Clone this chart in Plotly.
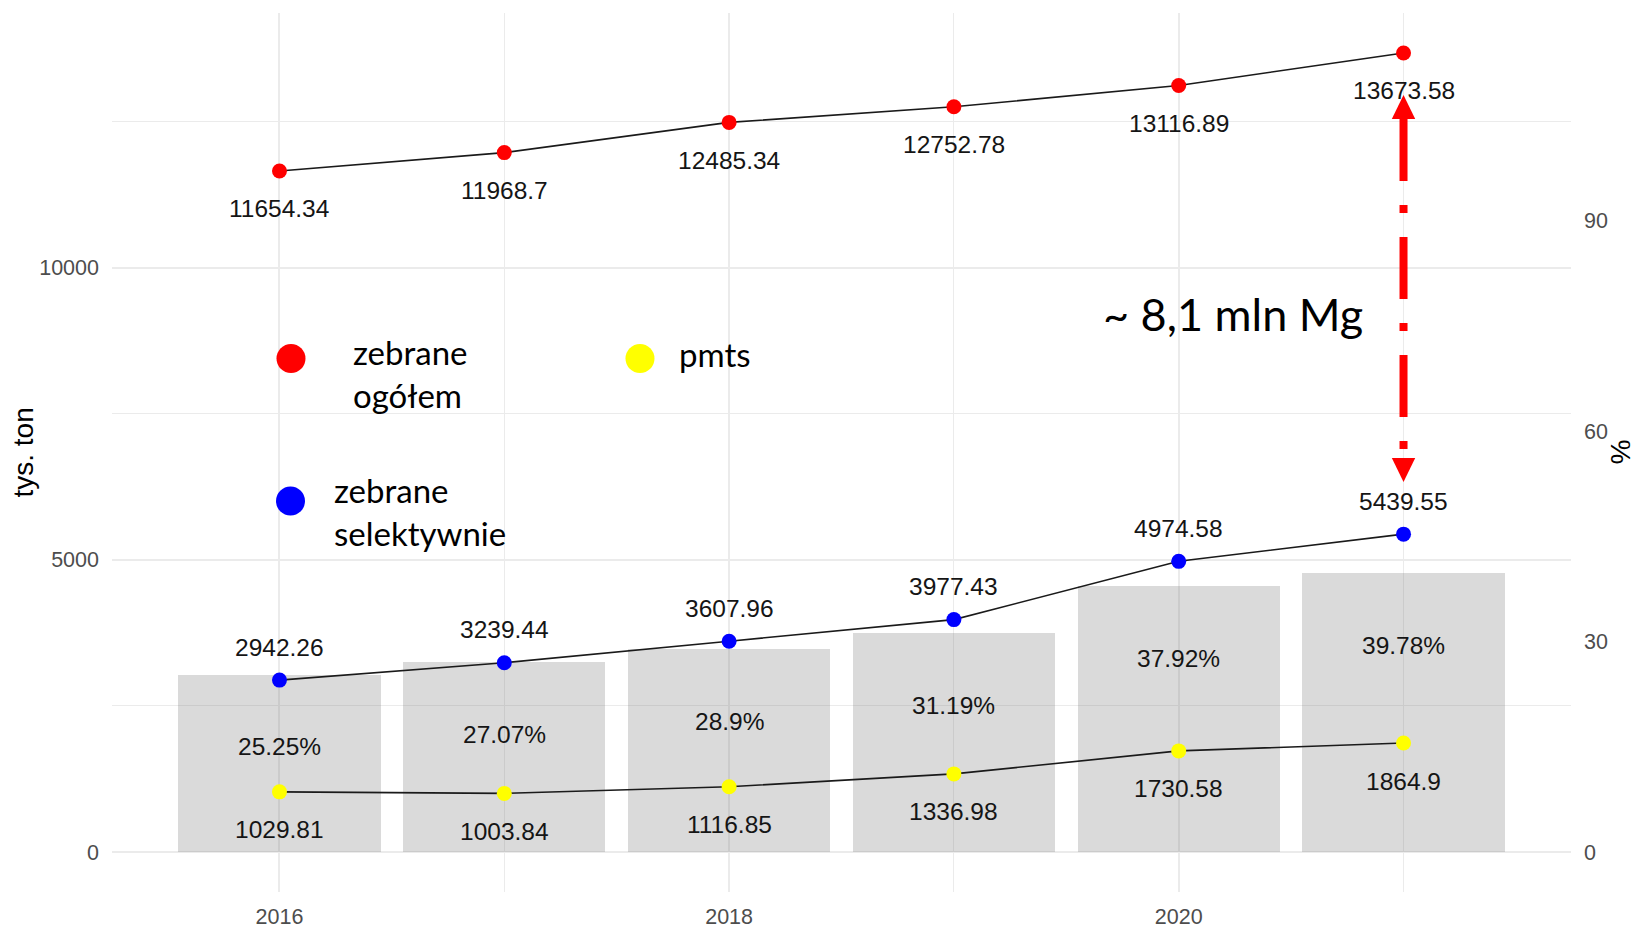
import plotly.graph_objects as go

# --- data -------------------------------------------------------------
years = [2016, 2017, 2018, 2019, 2020, 2021]
total_collected = [11654.34, 11968.7, 12485.34, 12752.78, 13116.89, 13673.58]
selective_collected = [2942.26, 3239.44, 3607.96, 3977.43, 4974.58, 5439.55]
pmts = [1029.81, 1003.84, 1116.85, 1336.98, 1730.58, 1864.9]
selective_share_pct = [25.25, 27.07, 28.9, 31.19, 37.92, 39.78]

x_ticks = [2016, 2018, 2020]
ton_ticks = [0, 5000, 10000]
pct_ticks = [0, 30, 60, 90]

legend_labels = ["zebrane<br>ogółem", "pmts", "zebrane<br>selektywnie"]
gap_label = "~ 8,1 mln Mg"

# --- scales -----------------------------------------------------------
TON_PER_PCT = 120.0          # right axis (%) = left axis (tys. ton) / 120
BAR_WIDTH = 0.9
pad_y = 0.05 * max(total_collected)
ton_range = [-pad_y, max(total_collected) + pad_y]
pct_range = [v / TON_PER_PCT for v in ton_range]
x_lo, x_hi = years[0] - BAR_WIDTH / 2, years[-1] + BAR_WIDTH / 2
pad_x = 0.05 * (x_hi - x_lo)
x_range = [x_lo - pad_x, x_hi + pad_x]

W, H = 1634, 928
M_L, M_R, M_T, M_B = 112, 63, 13, 36
PW, PH = W - M_L - M_R, H - M_T - M_B

def px_to_paper(px, py):
    return (px - M_L) / PW, (H - M_B - py) / PH

NUM_FONT = "Liberation Sans, Arial, sans-serif"
TEXT_FONT = "Lato, Open Sans, sans-serif"
GRID = "#EBEBEB"
TICK_COLOR = "#4D4D4D"
LABEL_COLOR = "#151515"

fig = go.Figure()

# bars: share of selectively collected waste (%), right axis
fig.add_trace(go.Bar(
    x=years, y=selective_share_pct, width=BAR_WIDTH, yaxis="y",
    marker=dict(color="rgba(120,120,120,0.27)", line=dict(width=0)),
    showlegend=False, hoverinfo="skip",
))

series = [
    (total_collected, "#FF0000"),
    (selective_collected, "#0000FF"),
    (pmts, "#FFFF00"),
]
for values, color in series:
    fig.add_trace(go.Scatter(
        x=years, y=values, yaxis="y2", mode="lines+markers",
        line=dict(color="#1A1A1A", width=1.6),
        marker=dict(color=color, size=15, line=dict(width=0)),
        showlegend=False, hoverinfo="skip",
    ))

annotations = []
label_font = dict(family=NUM_FONT, size=24.5, color=LABEL_COLOR)

def fmt(v):
    return str(v)

# value labels: totals and pmts below the points, selective above
for values, shift in [(total_collected, -38), (selective_collected, 33), (pmts, -38)]:
    for x, v in zip(years, values):
        annotations.append(dict(
            x=x, y=v, xref="x", yref="y2", text=fmt(v), showarrow=False,
            yshift=shift, font=label_font, xanchor="center", yanchor="middle",
        ))
for x, p in zip(years, selective_share_pct):
    annotations.append(dict(
        x=x, y=p, xref="x", yref="y", text=f"{fmt(p)}%", showarrow=False,
        yshift=-72, font=label_font, xanchor="center", yanchor="middle",
    ))

# axis titles
title_font = dict(family=NUM_FONT, size=28, color="#000000")
annotations.append(dict(
    x=px_to_paper(23, 0)[0], y=0.5, xref="paper", yref="paper", text="tys. ton",
    textangle=-90, showarrow=False, xanchor="center", yanchor="middle",
    font=title_font,
))
annotations.append(dict(
    x=px_to_paper(1620, 0)[0], y=0.5, xref="paper", yref="paper", text="%",
    textangle=90, showarrow=False, xanchor="center", yanchor="middle",
    font=title_font,
))

# manual legend
legend_font = dict(family=TEXT_FONT, size=33, color="#000000")
legend_layout = [
    # (dot centre px, text left px / middle px)
    ((291, 358.5), (351, 373)),
    ((640, 358.5), (677, 354)),
    ((290.5, 501), (332, 511)),
]
legend_colors = ["#FF0000", "#FFFF00", "#0000FF"]
shapes = []
for label, color, (dot, txt) in zip(legend_labels, legend_colors, legend_layout):
    dx, dy = px_to_paper(*dot)
    shapes.append(dict(
        type="circle", xref="paper", yref="paper",
        xsizemode="pixel", ysizemode="pixel", xanchor=dx, yanchor=dy,
        x0=-14.5, x1=14.5, y0=-14.5, y1=14.5,
        fillcolor=color, line=dict(width=0),
    ))
    tx, ty = px_to_paper(*txt)
    annotations.append(dict(
        x=tx, y=ty, xref="paper", yref="paper", text=label, showarrow=False,
        xanchor="left", yanchor="middle", align="left", font=legend_font,
    ))

gx, gy = px_to_paper(1101, 314)
annotations.append(dict(
    x=gx, y=gy, xref="paper", yref="paper", text=gap_label, showarrow=False,
    xanchor="left", yanchor="middle", font=dict(family=TEXT_FONT, size=45, color="#000000"),
))

# double-headed dash-dot arrow marking the gap in 2021
arrow_x = years[-1]
arrow_top_tip, arrow_bottom_tip = 12954, 6332
head_len = 410          # tys. ton
head_half_w = 0.052     # years
top_base = arrow_top_tip - head_len
bottom_base = arrow_bottom_tip + head_len
shapes.append(dict(
    type="line", xref="x", yref="y2", x0=arrow_x, x1=arrow_x,
    y0=top_base, y1=bottom_base,
    line=dict(color="#FF0000", width=8, dash="62px,24px,8px,24px"),
))
for tip, base in [(arrow_top_tip, top_base), (arrow_bottom_tip, bottom_base)]:
    shapes.append(dict(
        type="path", xref="x", yref="y2",
        path=f"M {arrow_x - head_half_w},{base} L {arrow_x + head_half_w},{base} L {arrow_x},{tip} Z",
        fillcolor="#FF0000", line=dict(width=0),
    ))

tick_font = dict(family=NUM_FONT, size=21.5, color=TICK_COLOR)

fig.update_layout(
    width=W, height=H,
    margin=dict(l=M_L, r=M_R, t=M_T, b=M_B, pad=0, autoexpand=False),
    paper_bgcolor="white", plot_bgcolor="white",
    bargap=0, showlegend=False,
    xaxis=dict(
        range=x_range, tickvals=x_ticks, showgrid=True, gridcolor=GRID, gridwidth=1.6,
        minor=dict(tick0=2016, dtick=1, showgrid=True, gridcolor=GRID, gridwidth=1),
        zeroline=False, showline=False, ticks="", tickfont=tick_font,
        ticklabelstandoff=9, automargin=False,
    ),
    yaxis=dict(
        range=pct_range, tickvals=pct_ticks, side="right", showgrid=False,
        zeroline=False, showline=False, ticks="", tickfont=tick_font,
        ticklabelstandoff=12, automargin=False,
    ),
    yaxis2=dict(
        range=ton_range, tickvals=ton_ticks, ticktext=[str(t) for t in ton_ticks],
        overlaying="y", side="left",
        showgrid=True, gridcolor=GRID, gridwidth=1.6,
        minor=dict(tick0=0, dtick=2500, showgrid=True, gridcolor=GRID, gridwidth=1),
        zeroline=False, showline=False, ticks="", tickfont=tick_font,
        ticklabelstandoff=12, automargin=False,
    ),
    annotations=annotations,
    shapes=shapes,
)

fig.write_html("out.html")
